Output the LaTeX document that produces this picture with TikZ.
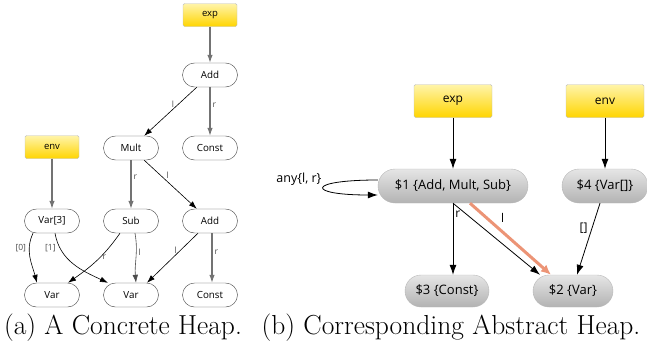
\documentclass[tikz,border=0pt]{standalone}
\usepackage{fontspec}
\newfontfamily\uifont{Open Sans}
\usetikzlibrary{arrows.meta}

\definecolor{rootlight}{RGB}{255,244,170}
\definecolor{rootdark}{RGB}{255,213,0}
\definecolor{hilite}{RGB}{236,148,118}

\begin{document}
\begin{tikzpicture}[x=1pt,y=-1pt,
  >={Latex[length=8pt,width=5.5pt]},
  root/.style={draw=black!25,top color=rootlight,bottom color=rootdark,rounded corners=1.5pt,
    inner sep=0pt,font=\uifont\fontsize{9.5}{11}\selectfont},
  obj/.style={draw=black!75,fill=white,rounded corners=12pt,minimum width=55pt,minimum height=24pt,
    inner sep=0pt,font=\uifont\fontsize{9.8}{11}\selectfont},
  absobj/.style={draw=black!28,top color=black!10,bottom color=black!30,rounded corners=16pt,
    minimum height=32pt,inner sep=0pt,font=\uifont\fontsize{13}{15}\selectfont},
  ledge/.style={->,black,line width=0.6pt},
  vedge/.style={->,black!55,line width=1.1pt},
  redge/.style={->,black,line width=0.8pt,>={Latex[length=10pt,width=7pt]}},
  lbl/.style={font=\uifont\fontsize{8.5}{10}\selectfont,text=black!70,inner sep=1pt},
  rlbl/.style={font=\uifont\fontsize{12}{14}\selectfont,inner sep=1pt}]
\useasboundingbox (0,0) rectangle (647,348);

\node[root,minimum width=54pt,minimum height=23pt] (lexp) at (210,15) {exp};
\node[obj] (ladd) at (210,75) {Add};
\node[obj] (lmult) at (131,148) {Mult};
\node[obj] (lconst) at (210,148) {Const};
\node[root,minimum width=54pt,minimum height=23pt] (lenv) at (52,147) {env};
\node[obj] (lvarr) at (52,221) {Var[3]};
\node[obj] (lsub) at (131,221) {Sub};
\node[obj] (ladd2) at (210,221) {Add};
\node[obj] (lvara) at (52,295) {Var};
\node[obj] (lvarb) at (131,295) {Var};
\node[obj] (lconst2) at (210,295) {Const};

\path[vedge] (lexp) edge (ladd)
        (ladd) edge node[lbl,pos=0.38,right=1pt] {r} (lconst)
        (lmult) edge node[lbl,pos=0.35,right=1pt] {r} (lsub)
        (lenv) edge (lvarr);
\path[ledge] (ladd) edge node[lbl,pos=0.35,left=3pt] {l} (lmult)
        (lmult) edge node[lbl,pos=0.4,above right=0pt] {l} (ladd2)
        ([xshift=-19pt]lvarr.south) edge[out=-115,in=105] node[lbl,pos=0.3,left=2pt] {[0]} ([xshift=-15pt]lvara.north)
        ([xshift=3pt]lvarr.south) edge[out=-80,in=155] node[lbl,pos=0.2,left=3pt] {[1]} ([xshift=-23pt]lvarb.north)
        ([xshift=-11pt]lsub.south) edge[out=-125,in=35] node[lbl,pos=0.42,right=1pt] {r} ([xshift=16pt]lvara.north)
        ([xshift=4pt]lsub.south) edge[out=-80,in=95,black!70] node[lbl,pos=0.38,right=1pt] {l} ([xshift=5pt]lvarb.north)
        ([xshift=-12pt]ladd2.south) edge node[lbl,pos=0.35,left=2pt] {l} ([xshift=16pt]lvarb.north)
        ([xshift=2pt]ladd2.south) edge[vedge] node[lbl,pos=0.38,right=1pt] {r} ([xshift=2pt]lconst2.north);

\node[root,minimum width=78pt,minimum height=33pt,font=\uifont\fontsize{12}{14}\selectfont] (rexp) at (453,101) {exp};
\node[root,minimum width=78pt,minimum height=33pt,font=\uifont\fontsize{12}{14}\selectfont] (renv) at (605,101) {env};
\node[absobj,minimum width=150pt,minimum height=34pt,rounded corners=17pt] (rs1) at (453,186) {\$1 \{Add, Mult, Sub\}};
\node[absobj,minimum width=86pt,minimum height=34pt,rounded corners=17pt] (rs4) at (605,186) {\$4 \{Var[]\}};
\node[absobj,minimum width=84pt] (rs3) at (447,291) {\$3 \{Const\}};
\node[absobj,minimum width=80pt] (rs2) at (573,291) {\$2 \{Var\}};

\path[redge] (rexp) edge (rs1)
        (renv) edge (rs4)
        (rs1.south) edge node[rlbl,pos=0.15,right=1pt] {r} (rs1.south |- rs3.north)
        (rs1.south) edge ([xshift=-33pt]rs2.north)
        ([xshift=-5pt]rs4.south) edge node[rlbl,pos=0.35,left=3pt] {[]} ([xshift=4pt]rs2.north);
\draw[->,hilite,line width=3pt,>={Latex[length=10pt,width=9pt]}] ([xshift=17pt]rs1.south) -- node[rlbl,black,pos=0.33,above right=2pt] {l} ([xshift=-22pt]rs2.north);
\draw[redge] ([yshift=6pt]rs1.west) .. controls +(-72pt,0) and +(-72pt,0) .. ([yshift=-9pt]rs1.west)
  node[rlbl,font=\uifont\fontsize{12.5}{14}\selectfont,pos=0.5,above left=1pt] {any\{l, r\}};

\node[font=\fontsize{27.5}{30}\selectfont] (capa) at (123,328) {(a)~A Concrete Heap.};
\node[font=\fontsize{27.5}{30}\selectfont] (capb) at (451,328) {(b)~Corresponding Abstract Heap.};
\end{tikzpicture}
\end{document}
